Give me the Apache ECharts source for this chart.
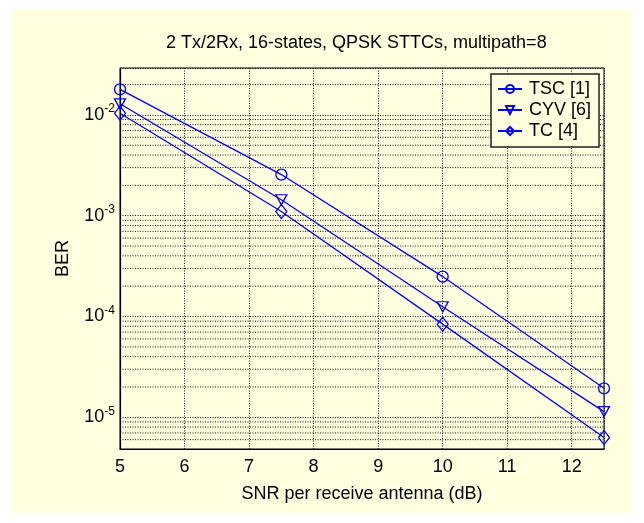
<!DOCTYPE html>
<html>
<head>
<meta charset="utf-8">
<script src="https://cdn.jsdelivr.net/npm/echarts@6/dist/echarts.min.js"></script>
<style>
  html, body { margin: 0; padding: 0; background: #ffffff; }
  #chart { width: 644px; height: 523px; }
</style>
</head>
<body>
<div id="chart"></div>
<script>
// ---- data ----
const snr = [5, 7.5, 10, 12.5];
const berTSC = [1.79e-2, 2.56e-3, 2.49e-4, 1.94e-5];
const berCYV = [1.29e-2, 1.44e-3, 1.25e-4, 1.14e-5];
const berTC  = [1.04e-2, 1.10e-3, 8.4e-5, 6.3e-6];
const seriesNames = ['TSC [1]', 'CYV [6]', 'TC [4]'];
const xTicks = [5, 6, 7, 8, 9, 10, 11, 12];
const xRange = [5, 12.5];
// minor (2..9 x decade) horizontal grid values
const minorGrid = [
  6e-6, 7e-6, 8e-6, 9e-6,
  2e-5, 3e-5, 4e-5, 5e-5, 6e-5, 7e-5, 8e-5, 9e-5,
  2e-4, 3e-4, 4e-4, 5e-4, 6e-4, 7e-4, 8e-4, 9e-4,
  2e-3, 3e-3, 4e-3, 5e-3, 6e-3, 7e-3, 8e-3, 9e-3,
  2e-2
];

const FONT = '"Liberation Sans", Arial, Helvetica, sans-serif';
const BG = '#FFFFE0';
const BLUE = '#0000FF';
const GRIDC = '#111111';
const DOTS = [1, 1.5];

function pairs(ys) { return snr.map((x, i) => [x, ys[i]]); }

const lineCommon = {
  type: 'line',
  showSymbol: true,
  z: 3,
  lineStyle: { color: BLUE, width: 1.3 },
  itemStyle: { color: 'rgba(0,0,0,0)', borderColor: BLUE, borderWidth: 1.3 },
  emphasis: { disabled: true },
  animation: false
};

const minorSeries = minorGrid.map(v => ({
  type: 'line', z: 1, silent: true, animation: false,
  data: xRange.map(x => [x, v]),
  showSymbol: false, symbol: 'none',
  lineStyle: { color: GRIDC, type: DOTS, width: 1 },
  emphasis: { disabled: true },
  tooltip: { show: false }
}));

const chart = echarts.init(document.getElementById('chart'), null, { renderer: 'canvas' });
chart.setOption({
  animation: false,
  backgroundColor: '#ffffff',
  textStyle: { fontFamily: FONT },
  graphic: {
    elements: [{
      type: 'rect', z: -100, silent: true,
      shape: { x: 12, y: 10, width: 620, height: 503 },
      style: { fill: BG }
    }]
  },
  title: {
    text: '2 Tx/2Rx, 16-states, QPSK STTCs, multipath=8',
    left: 166, top: 34, padding: 0,
    textStyle: { fontFamily: FONT, fontSize: 18, fontWeight: 'normal', color: '#000' }
  },
  grid: {
    left: 120, right: 40, top: 68, bottom: 74,
    show: true, backgroundColor: BG, borderColor: '#000', borderWidth: 1
  },
  legend: {
    data: seriesNames,
    orient: 'vertical',
    left: 491, top: 74,
    padding: [6, 8, 7, 6],
    itemGap: 3,
    itemWidth: 24, itemHeight: 10,
    backgroundColor: BG,
    borderColor: '#222', borderWidth: 1.5, borderRadius: 0,
    textStyle: { fontFamily: FONT, fontSize: 18, color: '#000', padding: [0, 0, 0, 2] }
  },
  xAxis: {
    type: 'value', min: xRange[0], max: xRange[1], interval: 1,
    name: 'SNR per receive antenna (dB)', nameLocation: 'middle', nameGap: 36,
    nameTextStyle: { fontFamily: FONT, fontSize: 18, color: '#000' },
    axisLine: { show: true, onZero: false, lineStyle: { color: '#000', width: 1.2 } },
    axisTick: { show: false },
    axisLabel: {
      fontFamily: FONT, fontSize: 18, color: '#000', margin: 9,
      showMaxLabel: false,
      formatter: v => (xTicks.indexOf(v) >= 0 ? String(v) : '')
    },
    splitLine: { show: true, lineStyle: { color: GRIDC, type: DOTS, width: 1 } }
  },
  yAxis: {
    type: 'log', logBase: 10, min: 4.85e-6, max: 2.92e-2,
    name: 'BER', nameLocation: 'middle', nameGap: 48, nameRotate: 90,
    nameTextStyle: { fontFamily: FONT, fontSize: 18, color: '#000' },
    axisLine: { show: true, lineStyle: { color: '#000', width: 1.2 } },
    axisTick: { show: false },
    axisLabel: {
      color: '#000', margin: 5,
      showMinLabel: false, showMaxLabel: false,
      formatter: function (v) {
        const e = Math.round(Math.log10(v));
        if (Math.abs(Math.log10(v) - e) > 1e-6) return '';
        return '{b|10}{s|' + e + '}';
      },
      rich: {
        b: { fontFamily: FONT, fontSize: 18, color: '#000' },
        s: { fontFamily: FONT, fontSize: 12, color: '#000', padding: [0, 0, 12, 0] }
      }
    },
    splitLine: { show: true, lineStyle: { color: GRIDC, type: DOTS, width: 1 } }
  },
  series: [
    Object.assign({}, lineCommon, {
      name: seriesNames[0], data: pairs(berTSC),
      symbol: 'circle', symbolSize: 11
    }),
    Object.assign({}, lineCommon, {
      name: seriesNames[1], data: pairs(berCYV),
      symbol: 'triangle', symbolRotate: 180, symbolSize: [11, 10]
    }),
    Object.assign({}, lineCommon, {
      name: seriesNames[2], data: pairs(berTC),
      symbol: 'diamond', symbolSize: [11, 14]
    })
  ].concat(minorSeries)
});
</script>
</body>
</html>
